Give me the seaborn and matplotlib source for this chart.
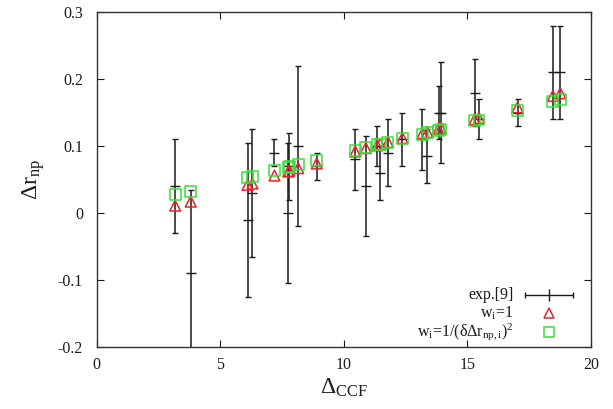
import numpy as np
import pandas as pd
import matplotlib
matplotlib.use("Agg")
import matplotlib.pyplot as plt
import seaborn as sns

# ---- data ----
delta_ccf = [3.17, 3.80, 6.10, 6.30, 7.19, 7.75, 7.79, 8.15, 8.90, 10.46, 10.89, 11.34,
             11.47, 11.78, 12.37, 13.18, 13.38, 13.83, 13.93, 15.29, 15.47, 17.03, 18.46, 18.76]
exp_val = [0.04, -0.09, -0.01, 0.03, 0.09, 0.00, 0.07, 0.10, 0.07, 0.08, 0.04, 0.10,
           0.06, 0.09, 0.11, 0.11, 0.085, 0.15, 0.15, 0.18, 0.14, 0.15, 0.21, 0.21]
exp_err = [0.07, 0.125, 0.115, 0.095, 0.02, 0.105, 0.05, 0.12, 0.02, 0.045, 0.075, 0.03,
           0.04, 0.05, 0.04, 0.045, 0.04, 0.04, 0.075, 0.05, 0.03, 0.02, 0.07, 0.07]
w1_val = [0.011, 0.017, 0.042, 0.044, 0.056, 0.062, 0.063, 0.067, 0.074, 0.092, 0.097, 0.101,
          0.103, 0.106, 0.112, 0.119, 0.121, 0.126, 0.127, 0.140, 0.142, 0.158, 0.175, 0.179]
wd_val = [0.027, 0.032, 0.053, 0.055, 0.063, 0.068, 0.069, 0.073, 0.079, 0.093, 0.098, 0.102,
          0.103, 0.106, 0.111, 0.118, 0.120, 0.124, 0.125, 0.138, 0.139, 0.153, 0.166, 0.169]

x_ticks = [0, 5, 10, 15, 20]
x_ticklabels = ["0", "5", "10", "15", "20"]
y_ticks = [-0.2, -0.1, 0.0, 0.1, 0.2, 0.3]
y_ticklabels = ["-0.2", "-0.1", "0", "0.1", "0.2", "0.3"]
legend_labels = ["exp.[9]", r"w$_\mathrm{i}$=1", r"w$_\mathrm{i}$=1/(δΔr$_\mathrm{np,i}$)$^2$"]

df = pd.DataFrame({"x": delta_ccf, "exp": exp_val, "err": exp_err, "w1": w1_val, "wd": wd_val})

sns.set_style("ticks")
plt.rcParams["font.family"] = ["Liberation Serif", "DejaVu Serif"]
plt.rcParams["mathtext.fontset"] = "custom"
plt.rcParams["mathtext.rm"] = "Liberation Serif"
plt.rcParams["mathtext.it"] = "Liberation Serif:italic"
plt.rcParams["mathtext.bf"] = "Liberation Serif:bold"

fig = plt.figure(figsize=(6.13, 4.09), dpi=100)
ax = fig.add_axes([0.158, 0.152, 0.806, 0.818])

ink = "#1a1a1a"
red = "#e3242b"
green = "#3ade3a"

# experimental error bars
ax.errorbar(df["x"], df["exp"], yerr=df["err"], fmt="none", ecolor=ink,
            elinewidth=1.1, capsize=2.0, capthick=1.0, zorder=2)
sns.scatterplot(data=df, x="x", y="exp", marker="_", s=45, color=ink,
                linewidth=1.0, ax=ax, zorder=3)
# model points
sns.scatterplot(data=df, x="x", y="w1", marker="^", s=60, facecolor="none",
                edgecolor=red, linewidth=1.1, ax=ax, zorder=4)
sns.scatterplot(data=df, x="x", y="wd", marker="s", s=62, facecolor="none",
                edgecolor=green, linewidth=1.1, ax=ax, zorder=5)

ax.set_xlim(0, 20)
ax.set_ylim(-0.2, 0.3)
ax.set_xticks(x_ticks)
ax.set_xticklabels(x_ticklabels)
ax.set_yticks(y_ticks)
ax.set_yticklabels(y_ticklabels)
ax.tick_params(direction="in", top=True, right=True, length=5, width=0.8,
               labelsize=11.5, colors=ink)
ax.tick_params(axis="y", pad=10)
ax.tick_params(axis="x", pad=7)
for s in ax.spines.values():
    s.set_color("#333333")
    s.set_linewidth(1.0)

ax.set_xlabel(r"Δ$_\mathrm{CCF}$", fontsize=17, color=ink, labelpad=3)
ax.set_ylabel(r"Δr$_\mathrm{np}$", fontsize=17, color=ink, labelpad=8)

# manual legend (right-aligned labels, samples on the right)
tx = 0.843
sx = 0.916
hw = 0.0486
rows = [0.155, 0.100, 0.045]
for lab, yy in zip(legend_labels, rows):
    ax.text(tx, yy, lab, transform=ax.transAxes, ha="right", va="center",
            fontsize=11.5, color=ink)
ax.plot([sx - hw, sx + hw], [rows[0], rows[0]], transform=ax.transAxes,
        color=ink, lw=1.0)
ax.plot([sx - hw, sx + hw], [rows[0]] * 2, transform=ax.transAxes,
        ls="none", marker="|", ms=5, mew=1.0, color=ink)
ax.plot([sx], [rows[0]], transform=ax.transAxes, ls="none", marker="|",
        ms=8, mew=1.0, color=ink)
ax.plot([sx], [rows[1]], transform=ax.transAxes, ls="none", marker="^",
        ms=7.5, mfc="none", mec=red, mew=1.1)
ax.plot([sx], [rows[2]], transform=ax.transAxes, ls="none", marker="s",
        ms=7.5, mfc="none", mec=green, mew=1.1)

legend = ax.get_legend()
if legend is not None:
    legend.remove()

fig.savefig("out.png", dpi=100)
